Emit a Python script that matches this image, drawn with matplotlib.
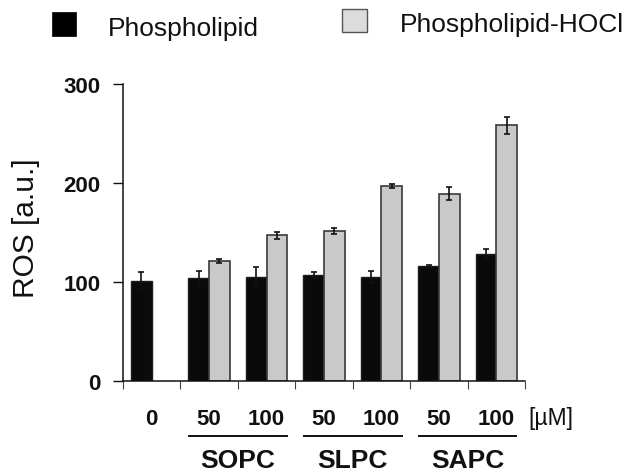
import numpy as np
import matplotlib
matplotlib.use("Agg")
import matplotlib.pyplot as plt
from matplotlib.patches import Rectangle
import matplotlib.transforms as mtransforms

plt.rcParams['font.family'] = ['Liberation Sans', 'DejaVu Sans']

# ---- data ----
dose_labels = ["0", "50", "100", "50", "100", "50", "100"]
groups = ["SOPC", "SLPC", "SAPC"]
group_centers = [1.5, 3.5, 5.5]
series_names = ["Phospholipid", "Phospholipid-HOCl"]
phospholipid = [101, 104, 105, 107, 105, 116, 128]
phospholipid_err = [9, 7.5, 10.5, 2.8, 5.7, 1.5, 5.3]
hocl = [None, 121, 147, 151, 197, 189, 258]
hocl_err = [None, 1.7, 3.5, 3, 2, 6.5, 8.5]
y_ticks = [0, 100, 200, 300]
unit_label = "[µM]"
y_label = "ROS [a.u.]"

W, H = 627, 477
fig = plt.figure(figsize=(W / 100, H / 100), dpi=100)
ax = fig.add_axes([123 / W, 1 - 382 / H, (525 - 123) / W, (382 - 84.7) / H])

x = np.arange(len(dose_labels))
bw = 0.36
black_c = '#0a0a0a'
gray_c = '#c9c9c9'

ax.bar(x - bw / 2, phospholipid, width=bw, color=black_c, edgecolor='#1e1e1e', linewidth=1.0, zorder=2)
ax.errorbar(x - bw / 2, phospholipid, yerr=phospholipid_err, fmt='none', ecolor='#111111',
            elinewidth=1.2, capsize=2.5, capthick=1.2, zorder=3)

hx = np.array([xi for xi, v in zip(x, hocl) if v is not None])
hv = np.array([v for v in hocl if v is not None], dtype=float)
he = np.array([e for e in hocl_err if e is not None], dtype=float)
ax.bar(hx + bw / 2, hv, width=bw, color=gray_c, edgecolor='#3a3a3a', linewidth=1.2, zorder=2)
ax.errorbar(hx + bw / 2, hv, yerr=he, fmt='none', ecolor='#111111',
            elinewidth=1.2, capsize=2.5, capthick=1.2, zorder=3)

ax.set_xlim(-0.5, len(dose_labels) - 0.5)
ax.set_ylim(0, 300)
ax.set_yticks(y_ticks)
ax.set_yticklabels([str(t) for t in y_ticks], fontsize=16, fontweight='bold')
ax.tick_params(axis='y', direction='out', length=7, width=1.0, pad=9, colors='#111111')
ax.set_xticks(np.arange(-0.5, len(dose_labels), 1.0))
ax.set_xticklabels([])
ax.tick_params(axis='x', direction='out', length=6, width=0.8, colors='#444444')
for s in ['top', 'right']:
    ax.spines[s].set_visible(False)
for s in ['left', 'bottom']:
    ax.spines[s].set_linewidth(1.1)
    ax.spines[s].set_color('#111111')

trans = mtransforms.blended_transform_factory(ax.transData, ax.transAxes)
for xi, lab in zip(x, dose_labels):
    ax.text(xi, -0.1446, lab, transform=trans, ha='center', va='baseline',
            fontsize=16, fontweight='bold', color='#111111')
ax.text(1.0075, -0.1446, unit_label, transform=ax.transAxes, ha='left', va='baseline',
        fontsize=16.5, color='#111111')
for gc, g in zip(group_centers, groups):
    ax.plot([gc - 0.85, gc + 0.85], [-0.184, -0.184], transform=trans, color='#111111',
            lw=1.4, clip_on=False)
    ax.text(gc, -0.289, g, transform=trans, ha='center', va='baseline',
            fontsize=19, fontweight='bold', color='#111111')

fig.text(26 / W, 1 - 228 / H, y_label, rotation=90, ha='center', va='center',
         fontsize=21.5, color='#111111')

# legend
fig.patches.append(Rectangle((52 / W, 1 - 37 / H), 24 / W, 24 / H, transform=fig.transFigure,
                             facecolor='black', edgecolor='black', lw=0.5))
fig.text(108 / W, 1 - 36 / H, series_names[0], ha='left', va='baseline', fontsize=19, color='#111111')
fig.patches.append(Rectangle((342 / W, 1 - 33 / H), 25 / W, 23 / H, transform=fig.transFigure,
                             facecolor='#dcdcdc', edgecolor='#555555', lw=1.0))
fig.text(400 / W, 1 - 32 / H, series_names[1], ha='left', va='baseline', fontsize=19, color='#111111')

fig.savefig("out.png", dpi=100)
